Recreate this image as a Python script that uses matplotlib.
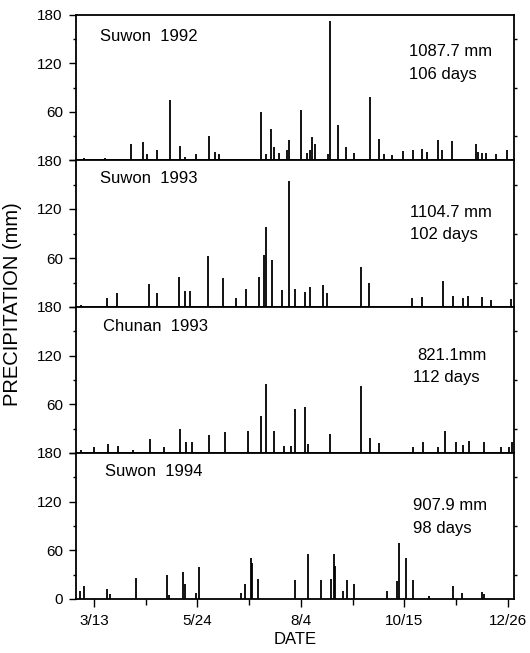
import numpy as np
import matplotlib.pyplot as plt

plt.rcParams['font.family'] = ['Liberation Sans', 'DejaVu Sans']

# day of year (non-leap) and daily precipitation (mm)
suwon92_day = [65, 80, 98, 106, 109, 116, 125, 132, 135, 143, 152, 156, 159,
               188, 192, 195, 197, 201, 206, 208, 216, 220, 222, 224, 226,
               235, 236, 242, 247, 253, 264, 270, 274, 279, 287, 294, 300,
               304, 311, 314, 321, 338, 339, 342, 345, 352, 359]
suwon92_mm = [2, 3, 20, 22, 8, 13, 75, 17, 4, 8, 30, 10, 8,
              60, 8, 39, 16, 9, 12, 25, 62, 9, 13, 28, 20,
              8, 172, 44, 16, 9, 78, 26, 7, 6, 11, 12, 14,
              10, 25, 12, 23, 20, 10, 9, 9, 7, 12]

suwon93_day = [63, 81, 88, 110, 116, 131, 135, 139, 151, 162, 171, 178, 187,
               190, 192, 196, 203, 208, 212, 219, 222, 231, 234, 258, 263,
               293, 300, 315, 322, 329, 332, 342, 348, 362]
suwon93_mm = [2, 11, 17, 28, 17, 37, 20, 20, 62, 35, 11, 22, 37,
              64, 98, 57, 21, 154, 22, 18, 24, 27, 17, 49, 30,
              11, 12, 32, 14, 11, 14, 12, 8, 10]

chunan93_day = [63, 72, 82, 89, 99, 111, 121, 132, 136, 140, 152, 163, 179,
                188, 192, 197, 204, 209, 212, 219, 221, 236, 258, 264, 270,
                294, 301, 311, 316, 324, 329, 333, 343, 355, 361, 363]
chunan93_mm = [4, 7, 11, 9, 4, 17, 8, 29, 13, 13, 22, 26, 27,
               46, 85, 27, 9, 9, 54, 57, 11, 23, 82, 18, 12,
               7, 13, 7, 27, 13, 10, 15, 13, 7, 7, 14]

suwon94_day = [62, 65, 81, 83, 101, 123, 124, 134, 135, 143, 145, 174, 177,
               181, 182, 186, 212, 221, 230, 237, 239, 240, 245, 248, 253,
               276, 283, 284, 289, 294, 305, 322, 328, 342, 343]
suwon94_mm = [10, 16, 12, 6, 26, 30, 5, 33, 18, 7, 40, 8, 18,
              50, 44, 25, 24, 56, 24, 25, 56, 41, 10, 24, 19,
              10, 22, 69, 51, 23, 4, 16, 8, 9, 6]

panels = [
    ('Suwon  1992', '1087.7 mm', '106 days', suwon92_day, suwon92_mm),
    ('Suwon  1993', '1104.7 mm', '102 days', suwon93_day, suwon93_mm),
    ('Chunan  1993', '821.1mm', '112 days', chunan93_day, chunan93_mm),
    ('Suwon  1994', '907.9 mm', '98 days', suwon94_day, suwon94_mm),
]
# text positions (axes fraction) per panel
title_xy = [(0.055, 0.85), (0.055, 0.875), (0.062, 0.865), (0.066, 0.875)]
total_xy = [(0.76, 0.745), (0.763, 0.646), (0.78, 0.67), (0.77, 0.637)]
days_xy = [(0.76, 0.59), (0.763, 0.49), (0.77, 0.514), (0.77, 0.48)]

date_ticks = [72, 144, 216, 288, 360]
date_labels = ['3/13', '5/24', '8/4', '10/15', '12/26']

W, H = 530, 653
fig = plt.figure(figsize=(W / 100, H / 100), dpi=100)
edges = [15, 160, 307, 453, 599]
left, right = 76, 514

for i, (name, tot, nd, d, mm) in enumerate(panels):
    top, bot = edges[i], edges[i + 1]
    ax = fig.add_axes([left / W, 1 - bot / H, (right - left) / W, (bot - top) / H])
    ax.vlines(d, 0, mm, color='k', lw=1.3)
    ax.set_xlim(59.5, 364.2)
    ax.set_ylim(0, 180)
    for s in ax.spines.values():
        s.set_linewidth(1.3)
    ax.set_yticks([0, 60, 120, 180])
    ax.set_yticks([30, 90, 150], minor=True)
    if i == 3:
        ax.set_yticklabels(['0', '60', '120', '180'])
    else:
        ax.set_yticklabels(['', '60', '120', '180'])
    ax.tick_params(axis='y', which='major', direction='out', length=5, width=1,
                   labelsize=11, pad=4.5)
    ax.tick_params(axis='y', which='minor', direction='out', length=2.5, width=1,
                   right=True)
    ax.set_xticks(date_ticks)
    ax.set_xticks([108, 180, 252, 324], minor=True)
    if i == 3:
        ax.set_xticklabels(date_labels)
        ax.tick_params(axis='x', which='major', direction='out', length=6, width=1,
                       labelsize=11, pad=5)
        ax.tick_params(axis='x', which='minor', direction='out', length=4, width=1)
        ax.set_xlabel('DATE', fontsize=12, labelpad=3)
    else:
        ax.tick_params(axis='x', which='both', bottom=False, labelbottom=False)
    ax.text(*title_xy[i], name, transform=ax.transAxes, fontsize=12,
            ha='left', va='center')
    ax.text(*total_xy[i], tot, transform=ax.transAxes, fontsize=12,
            ha='left', va='center')
    ax.text(*days_xy[i], nd, transform=ax.transAxes, fontsize=12,
            ha='left', va='center')

fig.text(0.023, 1 - 304 / H, 'PRECIPITATION (mm)', rotation=90, fontsize=14.5,
         ha='center', va='center')

fig.savefig('out.png', dpi=100)
